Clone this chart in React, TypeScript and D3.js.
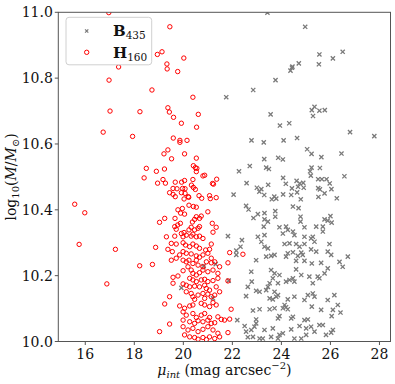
import React from 'react';
import * as d3 from 'd3';

// B435: surface brightness vs stellar mass (gray crosses)
const b435: [number, number][] = [
  [23.43, 10.999], [24.97, 10.956], [25.55, 10.872], [25.53, 10.842], [26.1, 10.86], [26.5, 10.88],
  [24.71, 10.845], [24.43, 10.832], [24.37, 10.823], [24.45, 10.835], [23.76, 10.794], [22.85, 10.764],
  [21.75, 10.742], [23.56, 10.69], [25.24, 10.703], [25.35, 10.713], [25.55, 10.701], [25.77, 10.703],
  [25.29, 10.685], [23.94, 10.656], [24.32, 10.663], [26.8, 10.636], [27.79, 10.624], [22.78, 10.611],
  [23.28, 10.605], [24.09, 10.611], [24.64, 10.618], [25.05, 10.584], [25.23, 10.57], [25.63, 10.56],
  [26.45, 10.571], [23.3, 10.554], [23.87, 10.558], [24.06, 10.553], [22.71, 10.533], [23.38, 10.528],
  [23.49, 10.524], [22.27, 10.517], [25.17, 10.517], [25.23, 10.528], [25.57, 10.527], [25.2, 10.504],
  [26.57, 10.502], [22.58, 10.481], [23.46, 10.476], [24.07, 10.497], [24.18, 10.479], [24.62, 10.488],
  [24.75, 10.48], [24.89, 10.482], [25.5, 10.493], [25.65, 10.493], [25.84, 10.493], [25.97, 10.48],
  [24.43, 10.465], [24.68, 10.47], [24.91, 10.467], [25.5, 10.466], [25.57, 10.462], [26.04, 10.463],
  [23.0, 10.467], [23.18, 10.463], [23.1, 10.455], [23.3, 10.445], [22.05, 10.446], [23.71, 10.44],
  [24.07, 10.447], [24.4, 10.445], [24.64, 10.453], [24.79, 10.432], [25.51, 10.439], [25.76, 10.45],
  [26.26, 10.435], [23.61, 10.432], [23.79, 10.434],
  [22.56, 10.412], [22.66, 10.401], [22.86, 10.375], [23.04, 10.387], [23.31, 10.39], [23.31, 10.371],
  [23.45, 10.364], [23.75, 10.396], [23.75, 10.379], [24.47, 10.41], [24.7, 10.405], [24.78, 10.379],
  [24.78, 10.364], [25.76, 10.371], [26.0, 10.381], [26.05, 10.361], [25.89, 10.367],
  [21.82, 10.32], [22.39, 10.308], [22.33, 10.288], [22.16, 10.276], [22.16, 10.263], [22.97, 10.247],
  [23.04, 10.318], [23.31, 10.323], [23.18, 10.303], [23.31, 10.288], [23.45, 10.283], [23.38, 10.258],
  [23.58, 10.26], [23.72, 10.263], [23.28, 10.349], [23.92, 10.347], [24.19, 10.349], [24.26, 10.339],
  [24.06, 10.328], [24.47, 10.334], [24.53, 10.323], [24.94, 10.347], [25.28, 10.318], [25.42, 10.349],
  [25.69, 10.349], [25.69, 10.334], [24.94, 10.318], [25.21, 10.313], [25.35, 10.303], [24.13, 10.296],
  [24.33, 10.298], [24.6, 10.296], [24.74, 10.288], [24.94, 10.296], [24.81, 10.27], [24.87, 10.263],
  [24.47, 10.271], [24.26, 10.268], [24.19, 10.258], [24.6, 10.245], [24.67, 10.26], [24.94, 10.245],
  [25.21, 10.28], [25.42, 10.273], [25.24, 10.237], [25.62, 10.239], [25.89, 10.273], [26.03, 10.263],
  [25.96, 10.296], [26.37, 10.242], [26.5, 10.227], [26.71, 10.258], [25.76, 10.207], [25.89, 10.222],
  [25.48, 10.197], [25.55, 10.192], [25.14, 10.197], [25.28, 10.177], [24.81, 10.202], [24.6, 10.219],
  [24.47, 10.192], [24.53, 10.182], [24.19, 10.182], [24.33, 10.187], [23.92, 10.202], [23.72, 10.207],
  [23.65, 10.192], [23.58, 10.217], [23.52, 10.177], [23.86, 10.177], [23.45, 10.166], [23.38, 10.156],
  [23.72, 10.151], [23.79, 10.136], [23.11, 10.151], [22.97, 10.154], [22.79, 10.182], [22.77, 10.212],
  [22.63, 10.166], [22.56, 10.138], [23.52, 10.131], [23.65, 10.128], [23.86, 10.141], [24.26, 10.128],
  [24.53, 10.136], [24.94, 10.126], [25.08, 10.141], [25.28, 10.146], [25.35, 10.136], [26.16, 10.141],
  [26.3, 10.111], [25.89, 10.126], [25.24, 10.106], [25.62, 10.096], [26.1, 10.096], [26.05, 10.077],
  [26.41, 10.088], [24.13, 10.111], [24.19, 10.104], [24.26, 10.098], [24.06, 10.101], [23.72, 10.101],
  [23.52, 10.098], [23.11, 10.098], [22.84, 10.094], [23.92, 10.077], [23.86, 10.07], [24.4, 10.07],
  [24.47, 10.075], [24.94, 10.065], [25.08, 10.067], [24.74, 10.047], [25.21, 10.045], [25.55, 10.05],
  [25.69, 10.05], [25.35, 10.03], [25.82, 10.02], [26.03, 10.027], [26.1, 10.035], [25.01, 10.02],
  [24.81, 10.009], [24.53, 10.009], [24.4, 10.037], [24.06, 10.025], [23.92, 10.02], [23.86, 10.009],
  [23.65, 10.04], [23.58, 10.014], [23.31, 10.035], [23.24, 10.009], [23.11, 10.009], [22.97, 10.067],
  [22.97, 10.055], [22.9, 10.045], [22.77, 10.035], [22.5, 10.047], [22.56, 10.03], [22.63, 10.013],
  [22.84, 10.014], [22.2, 10.065], [25.01, 10.04],
  [20.83, 10.229], [21.32, 10.235], [19.92, 10.163], [21.21, 10.131], [21.85, 10.185],
];

// H160: surface brightness vs stellar mass (red open circles)
const h160: [number, number][] = [
  [16.96, 10.999], [19.45, 10.956], [18.94, 10.872], [19.13, 10.88], [20.02, 10.861], [19.33, 10.843],
  [19.34, 10.828], [19.77, 10.82], [17.36, 10.834], [16.97, 10.794], [18.72, 10.764], [20.39, 10.742],
  [17.01, 10.7], [18.23, 10.698], [19.37, 10.71], [19.43, 10.697], [19.6, 10.681], [20.61, 10.69],
  [20.54, 10.651], [19.92, 10.663], [16.73, 10.636], [17.93, 10.623], [19.59, 10.618], [19.86, 10.611],
  [19.86, 10.605], [20.15, 10.611], [19.37, 10.582], [19.21, 10.57], [20.05, 10.57], [19.52, 10.555],
  [18.49, 10.526], [18.9, 10.517], [19.23, 10.524], [20.41, 10.534], [20.55, 10.526], [18.4, 10.497],
  [18.95, 10.481], [19.17, 10.492], [19.27, 10.481], [19.67, 10.484], [19.93, 10.484], [20.05, 10.489],
  [20.39, 10.492], [20.33, 10.475], [19.58, 10.465], [19.44, 10.452], [19.97, 10.465], [20.07, 10.464],
  [19.92, 10.452], [20.07, 10.45], [19.67, 10.44], [20.2, 10.44],
  [20.53, 10.557], [20.49, 10.528], [20.53, 10.516], [20.41, 10.468], [20.49, 10.462], [19.74, 10.464],
  [19.58, 10.447], [20.8, 10.503], [20.87, 10.505], [21.36, 10.493], [21.19, 10.48], [21.23, 10.478],
  [21.07, 10.443], [21.1, 10.434], [21.34, 10.437], [20.64, 10.443], [20.75, 10.435], [20.03, 10.433],
  [20.22, 10.438], [20.41, 10.41], [20.53, 10.408], [20.23, 10.414], [19.78, 10.4], [19.96, 10.404],
  [19.89, 10.39], [20.05, 10.387], [21.0, 10.394], [20.53, 10.379], [20.73, 10.381], [20.66, 10.374],
  [20.46, 10.371], [20.37, 10.363], [19.66, 10.374], [19.24, 10.374], [19.03, 10.362], [21.18, 10.359],
  [19.88, 10.359], [19.77, 10.354],
  [15.57, 10.417], [15.98, 10.391], [15.75, 10.295], [17.23, 10.28], [18.22, 10.23], [16.88, 10.175],
  [19.65, 10.349], [19.71, 10.341], [19.92, 10.328], [20.03, 10.331], [20.23, 10.339], [20.32, 10.347],
  [20.46, 10.339], [20.6, 10.344], [20.66, 10.349], [21.21, 10.332], [21.34, 10.347], [19.31, 10.318],
  [19.65, 10.32], [19.99, 10.318], [20.12, 10.323], [20.32, 10.32], [20.39, 10.326], [20.53, 10.318],
  [20.66, 10.32], [20.8, 10.313], [21.14, 10.296], [18.87, 10.286], [19.51, 10.298], [19.71, 10.296],
  [19.99, 10.3], [20.09, 10.293], [20.26, 10.288], [20.39, 10.296], [20.53, 10.29], [20.66, 10.283],
  [20.91, 10.278], [21.07, 10.28], [21.89, 10.27], [19.37, 10.28], [19.55, 10.273], [19.85, 10.263],
  [19.99, 10.273], [20.12, 10.268], [20.32, 10.266], [20.53, 10.26], [20.66, 10.256], [20.8, 10.263],
  [21.0, 10.268], [21.14, 10.253], [21.28, 10.242], [18.74, 10.234], [19.51, 10.247], [19.71, 10.253],
  [19.99, 10.247], [20.12, 10.242], [20.23, 10.247], [20.39, 10.237], [20.53, 10.247], [20.6, 10.232],
  [20.8, 10.227], [20.94, 10.242], [21.14, 10.239], [21.48, 10.227], [21.82, 10.239], [19.99, 10.215],
  [20.19, 10.227], [20.32, 10.217], [20.39, 10.207], [20.53, 10.202], [20.66, 10.209], [20.8, 10.217],
  [21.0, 10.212], [21.21, 10.217], [21.41, 10.207], [19.58, 10.195], [19.78, 10.199], [20.26, 10.192],
  [20.39, 10.187], [20.53, 10.182], [20.73, 10.187], [20.87, 10.189], [21.0, 10.182], [21.21, 10.185],
  [21.41, 10.192], [21.82, 10.184], [19.58, 10.177], [19.99, 10.175], [20.12, 10.171], [20.26, 10.166],
  [20.46, 10.168], [20.66, 10.166], [20.87, 10.171], [20.94, 10.161], [21.07, 10.156], [21.34, 10.166],
  [19.44, 10.136], [20.12, 10.151], [20.32, 10.146], [20.39, 10.136], [20.46, 10.128], [20.6, 10.141],
  [20.8, 10.146], [20.87, 10.131], [21.0, 10.144], [21.14, 10.136], [21.28, 10.141], [21.48, 10.151],
  [19.24, 10.114], [19.85, 10.108], [20.05, 10.101], [20.26, 10.108], [20.39, 10.111], [20.73, 10.116],
  [20.87, 10.111], [21.07, 10.106], [21.21, 10.118], [21.34, 10.111], [21.95, 10.098], [19.99, 10.09],
  [20.12, 10.08], [20.39, 10.085], [20.53, 10.073], [20.73, 10.08], [20.87, 10.085], [21.07, 10.073],
  [21.41, 10.075], [21.55, 10.067], [21.68, 10.065], [21.89, 10.068], [19.99, 10.065], [20.26, 10.06],
  [20.46, 10.055], [20.6, 10.063], [20.8, 10.06], [21.0, 10.065], [21.14, 10.055], [21.28, 10.057],
  [19.03, 10.03], [19.44, 10.053], [19.99, 10.045], [20.19, 10.035], [20.39, 10.04], [20.6, 10.03],
  [20.8, 10.037], [21.0, 10.045], [21.21, 10.035], [21.41, 10.025], [21.82, 10.027], [20.05, 10.02],
  [20.26, 10.014], [20.46, 10.012], [20.6, 10.007], [20.8, 10.012], [20.94, 10.006], [21.07, 10.014],
  [21.28, 10.009], [21.48, 10.014], [22.43, 10.265],
];

const xTicks = [16, 18, 20, 22, 24, 26, 28];
const yTicks = [10.0, 10.2, 10.4, 10.6, 10.8, 11.0];

const W = 395;
const H = 384;
const FONT = '"DejaVu Serif", serif';

function Cross({ cx, cy, s = 2.1 }: { cx: number; cy: number; s?: number }) {
  return (
    <path
      d={`M${cx - s},${cy - s}L${cx + s},${cy + s}M${cx - s},${cy + s}L${cx + s},${cy - s}`}
      stroke="#7a7a7a"
      strokeWidth={1.3}
      fill="none"
    />
  );
}

export default function App() {
  const x = d3.scaleLinear().domain([14.9, 28.45]).range([58.3, 390.5]);
  const y = d3.scaleLinear().domain([10, 11]).range([341.5, 12.3]);
  const [x0, x1] = x.range();
  const [yb, yt] = y.range();

  return (
    <svg
      width={W}
      height={H}
      style={{ position: 'absolute', left: 0, top: 0, background: '#fff' }}
      fontFamily={FONT}
    >
      <defs>
        <clipPath id="plot">
          <rect x={x0} y={yt} width={x1 - x0} height={yb - yt} />
        </clipPath>
      </defs>

      <g clipPath="url(#plot)">
        {b435.map(([mx, my], i) => (
          <Cross key={'b' + i} cx={x(mx)} cy={y(my)} />
        ))}
        {h160.map(([mx, my], i) => (
          <circle key={'h' + i} cx={x(mx)} cy={y(my)} r={2.2} fill="none" stroke="#ff0000" strokeWidth={1} />
        ))}
      </g>

      {/* frame */}
      <rect x={x0} y={yt} width={x1 - x0} height={yb - yt} fill="none" stroke="#555" strokeWidth={1} />

      {/* x ticks */}
      {xTicks.map((t) => (
        <g key={'xt' + t}>
          <line x1={x(t)} x2={x(t)} y1={yb} y2={yb + 3.5} stroke="#555" />
          <text x={x(t)} y={yb + 17} textAnchor="middle" fontSize={14} fill="#111">
            {t}
          </text>
        </g>
      ))}

      {/* y ticks */}
      {yTicks.map((t) => (
        <g key={'yt' + t}>
          <line x1={x0 - 3.5} x2={x0} y1={y(t)} y2={y(t)} stroke="#555" />
          <text x={x0 - 5.5} y={y(t) + 5} textAnchor="end" fontSize={14} fill="#111">
            {d3.format('.1f')(t)}
          </text>
        </g>
      ))}

      {/* axis labels */}
      <text x={(x0 + x1) / 2} y={375} textAnchor="middle" fontSize={14} fill="#111">
        <tspan fontStyle="italic">μ</tspan>
        <tspan fontStyle="italic" fontSize={10} dy={3}>int</tspan>
        <tspan dy={-3}> (mag arcsec</tspan>
        <tspan fontSize={10} dy={-6}>−2</tspan>
        <tspan dy={6}>)</tspan>
      </text>
      <text transform={`translate(16, ${(yt + yb) / 2}) rotate(-90)`} textAnchor="middle" fontSize={14} fill="#111">
        <tspan>log</tspan>
        <tspan fontSize={10} dy={3}>10</tspan>
        <tspan dy={-3}>(</tspan>
        <tspan fontStyle="italic">M</tspan>
        <tspan>/</tspan>
        <tspan fontStyle="italic">M</tspan>
        <tspan fontSize={10} dy={3}>⊙</tspan>
        <tspan dy={-3}>)</tspan>
      </text>

      {/* legend */}
      <g>
        <rect x={66} y={17.3} width={85.7} height={47.5} rx={3} fill="#fff" fillOpacity={0.85} stroke="#d0d0d0" />
        <Cross cx={86.7} cy={31} s={1.6} />
        <text x={113} y={36} fontSize={15} fontWeight="bold" fill="#111">
          B<tspan fontSize={10.5} fontWeight="normal" dy={3}>435</tspan>
        </text>
        <circle cx={86.7} cy={52.3} r={2.2} fill="none" stroke="#ff0000" strokeWidth={1} />
        <text x={113} y={57.5} fontSize={15} fontWeight="bold" fill="#111">
          H<tspan fontSize={10.5} fontWeight="normal" dy={3}>160</tspan>
        </text>
      </g>
    </svg>
  );
}
